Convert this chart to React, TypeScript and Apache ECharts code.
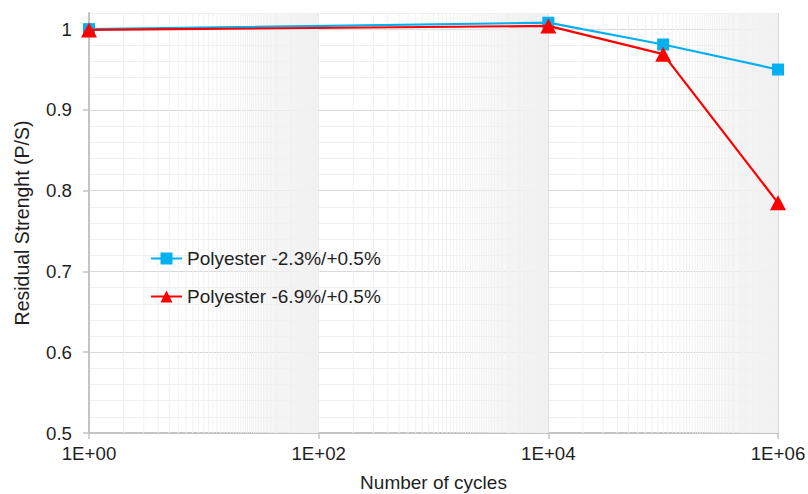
import React, { useEffect, useRef } from "react";
import * as echarts from "echarts";

const cycles = [1, 10000, 100000, 1000000];
const seriesNames = ["Polyester -2.3%/+0.5%", "Polyester -6.9%/+0.5%"];
const blueValues = [1.0, 1.008, 0.981, 0.95];
const redValues = [0.999, 1.004, 0.969, 0.785];
const xTickLabels = ["1E+00", "1E+02", "1E+04", "1E+06"];
const yTickValues = [0.5, 0.6, 0.7, 0.8, 0.9, 1.0];
const yTickLabels = ["0.5", "0.6", "0.7", "0.8", "0.9", "1"];

const FONT = "'Liberation Sans', Arial, sans-serif";
const FS = 18.7;
const TXT = "#1f1f1f";

export default function App() {
  const ref = useRef<HTMLDivElement>(null);
  useEffect(() => {
    if (!ref.current) return;
    const chart = echarts.init(ref.current, undefined, { renderer: "svg" });
    const minorX: number[] = [];
    [1, 100, 10000].forEach((base) => {
      for (let k = 2; k <= 99; k++) minorX.push(k * base);
    });
    const option: any = {
      animation: false,
      backgroundColor: "#ffffff",
      textStyle: { fontFamily: FONT },
      grid: {
        left: 89,
        right: 30,
        top: 13,
        bottom: 61,
        containLabel: false,
        outerBoundsMode: "none",
      },
      legend: {
        data: seriesNames,
        orient: "vertical",
        left: 145,
        top: 244,
        itemWidth: 31,
        itemHeight: 15,
        itemGap: 19,
        textStyle: { fontFamily: FONT, fontSize: 19, color: TXT },
      },
      xAxis: {
        type: "log",
        logBase: 100,
        min: 1,
        max: 1000000,
        name: "Number of cycles",
        nameLocation: "middle",
        nameGap: 40,
        nameTextStyle: { fontFamily: FONT, fontSize: 19, color: TXT },
        axisLine: { show: true, lineStyle: { color: "#c4c4c4", width: 2 } },
        axisTick: { show: true, length: 6, lineStyle: { color: "#c4c4c4", width: 1.5 } },
        axisLabel: {
          fontFamily: FONT,
          fontSize: FS,
          color: TXT,
          margin: 11,
          formatter: (v: number) => {
            const e = Math.round(Math.log10(v));
            return xTickLabels[Math.round(e / 2)] ?? "";
          },
        },
        splitLine: { show: true, lineStyle: { color: "#d9d9d9", width: 1 } },
      },
      yAxis: [
        {
          type: "value",
          position: "left",
          min: 0.5,
          max: 1.02,
          interval: 0.02,
          axisLine: { show: false },
          axisTick: { show: false },
          axisLabel: { show: false },
          splitLine: { show: true, lineStyle: { color: "#efefef", width: 1 } },
        },
        {
          type: "value",
          position: "left",
          offset: 0,
          min: 0.5,
          max: 1.02,
          interval: 0.1,
          name: "Residual Strenght (P/S)",
          nameLocation: "middle",
          nameGap: 57,
          nameTextStyle: { fontFamily: FONT, fontSize: 19.5, color: TXT },
          axisLine: { show: true, onZero: false, lineStyle: { color: "#c4c4c4", width: 2 } },
          axisTick: {
            show: true,
            length: 6,
            customValues: yTickValues,
            lineStyle: { color: "#c4c4c4", width: 1.5 },
          },
          axisLabel: {
            fontFamily: FONT,
            fontSize: FS,
            color: TXT,
            margin: 17,
            customValues: yTickValues,
            formatter: (v: number) => {
              const i = yTickValues.findIndex((t) => Math.abs(t - v) < 1e-6);
              return i >= 0 ? yTickLabels[i] : "";
            },
          },
          splitLine: { show: true, lineStyle: { color: "#d9d9d9", width: 1 } },
        },
      ],
      series: [
        {
          type: "custom",
          silent: true,
          z: 1,
          yAxisIndex: 1,
          data: [[1, 0.5]],
          renderItem: (_params: any, api: any) => {
            const children = minorX.map((v) => {
              const p1 = api.coord([v, 0.5]);
              const p2 = api.coord([v, 1.02]);
              return {
                type: "line",
                shape: { x1: p1[0], y1: p1[1], x2: p2[0], y2: p2[1] },
                style: { stroke: "#f1f1f1", lineWidth: 1 },
              };
            });
            return { type: "group", children };
          },
        },
        {
          name: seriesNames[0],
          type: "line",
          yAxisIndex: 1,
          z: 3,
          data: cycles.map((c, i) => [c, blueValues[i]]),
          symbol: "rect",
          symbolSize: 12,
          lineStyle: { color: "#00b0f0", width: 2.2 },
          itemStyle: { color: "#00b0f0" },
        },
        {
          name: seriesNames[1],
          type: "line",
          yAxisIndex: 1,
          z: 4,
          data: cycles.map((c, i) => [c, redValues[i]]),
          symbol: "triangle",
          symbolSize: [16, 15],
          lineStyle: { color: "#ff0000", width: 2.2 },
          itemStyle: { color: "#ff0000" },
        },
      ],
    };
    chart.setOption(option);
    return () => chart.dispose();
  }, []);
  return (
    <div
      ref={ref}
      style={{ position: "absolute", left: 0, top: 0, width: 808, height: 494 }}
    />
  );
}
